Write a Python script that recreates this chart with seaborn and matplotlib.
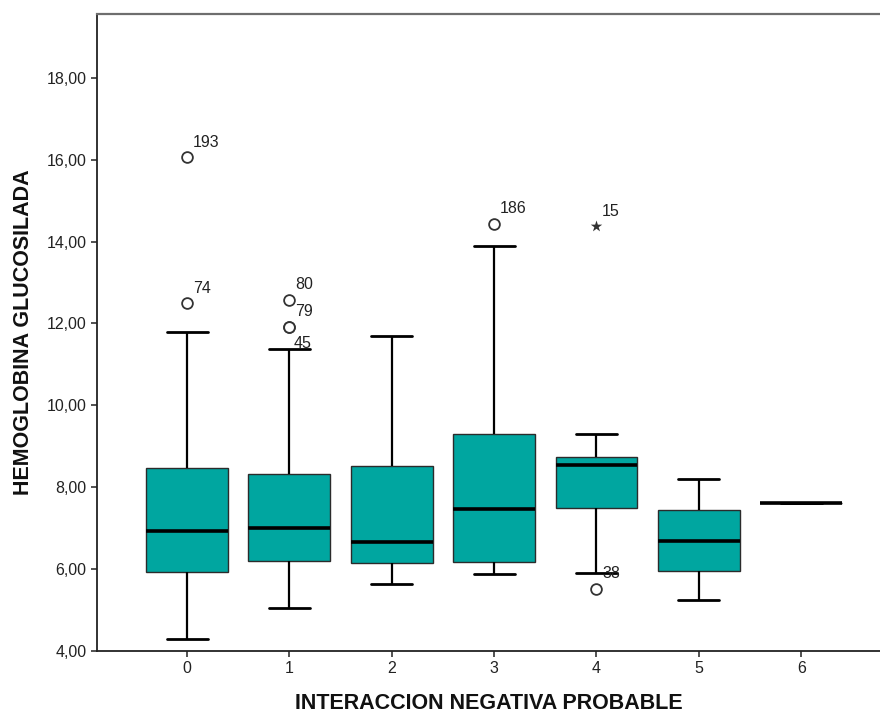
import matplotlib
matplotlib.use("Agg")
import matplotlib.pyplot as plt
from matplotlib.ticker import FuncFormatter, FixedLocator
import pandas as pd
import seaborn as sns

# Five-number summaries of glycated haemoglobin per level of probable negative interaction
categories = ["0", "1", "2", "3", "4", "5", "6"]
whisker_low = [4.30, 5.04, 5.64, 5.88, 5.90, 5.24, 7.61]
q1 = [5.92, 6.20, 6.14, 6.17, 7.49, 5.96, 7.61]
median = [6.92, 7.01, 6.66, 7.48, 8.55, 6.69, 7.61]
q3 = [8.48, 8.32, 8.52, 9.29, 8.75, 7.44, 7.61]
whisker_high = [11.79, 11.37, 11.70, 13.90, 9.29, 8.19, 7.61]

# Outlying cases (circles) and extreme cases (stars), with case numbers
outlier_cat = ["0", "0", "1", "1", "1", "3", "4"]
outlier_val = [16.06, 12.49, 12.58, 11.92, 11.92, 14.43, 5.51]
outlier_id = ["193", "74", "80", "79", "45", "186", "38"]

extreme_cat = ["4"]
extreme_val = [14.37]
extreme_id = ["15"]

y_ticks = [4, 6, 8, 10, 12, 14, 16, 18]

# long table: each group's summary values give exactly these quartiles
rows = []
for i, cat in enumerate(categories):
    for v in (whisker_low[i], q1[i], median[i], q3[i], whisker_high[i]):
        rows.append({"grupo": cat, "hba1c": v})
df = pd.DataFrame(rows)

sns.set_theme(style="white")
plt.rcParams["font.family"] = ["Liberation Sans", "DejaVu Sans"]

W, H = 880, 714
fig = plt.figure(figsize=(W / 100, H / 100), dpi=100)
ax = fig.add_axes([97 / W, 1 - 651 / H, (W - 97) / W, (651 - 14) / H])

fill = "#00A6A0"
edge = "#2b2b2b"
sns.boxplot(
    data=df, x="grupo", y="hba1c", order=categories, ax=ax,
    whis=(0, 100), width=0.8, color=fill, saturation=1,
    linecolor=edge, linewidth=1.0, showfliers=False,
    boxprops=dict(edgecolor=edge, linewidth=1.0),
    medianprops=dict(color="black", linewidth=2.6),
    whiskerprops=dict(color="black", linewidth=1.6),
    capprops=dict(color="black", linewidth=2.0),
)

pos = {c: i for i, c in enumerate(categories)}
ox = [pos[c] for c in outlier_cat]
ex = [pos[c] for c in extreme_cat]
ax.scatter(ox, outlier_val, s=60, marker="o", facecolors="white",
           edgecolors="#333333", linewidths=1.3, zorder=5)
ax.scatter(ex, extreme_val, s=75, marker="*", color="#333333",
           linewidths=0, zorder=5)

label_offsets = {"45": (3, -12)}
for x, v, t in list(zip(ox, outlier_val, outlier_id)) + list(zip(ex, extreme_val, extreme_id)):
    dx, dy = label_offsets.get(t, (4, 11))
    ax.annotate(t, (x, v), xytext=(dx, dy), textcoords="offset points",
                ha="left", va="center", fontsize=11.5, color="#222222", zorder=6)

ax.set_xlim(-0.88, 6.77)
ax.set_ylim(4, 19.56)
ax.yaxis.set_major_locator(FixedLocator(y_ticks))
ax.yaxis.set_major_formatter(FuncFormatter(lambda v, p: f"{v:.2f}".replace(".", ",")))

ax.tick_params(axis="both", which="major", direction="out", length=4.5, width=1.2,
               color="#333333", labelsize=11.5, labelcolor="#222222", pad=3,
               left=True, bottom=True)

for side in ("left", "bottom"):
    ax.spines[side].set_color("#222222")
    ax.spines[side].set_linewidth(1.3)
ax.spines["top"].set_color("#6e6e6e")
ax.spines["top"].set_linewidth(1.6)
ax.spines["right"].set_visible(False)

ax.set_xlabel("INTERACCION NEGATIVA PROBABLE", fontsize=15.5, fontweight="bold",
              color="#111111", labelpad=12)
ax.set_ylabel("HEMOGLOBINA GLUCOSILADA", fontsize=15.5, fontweight="bold",
              color="#111111", labelpad=9)

fig.savefig("out.png", dpi=100, facecolor="white")
